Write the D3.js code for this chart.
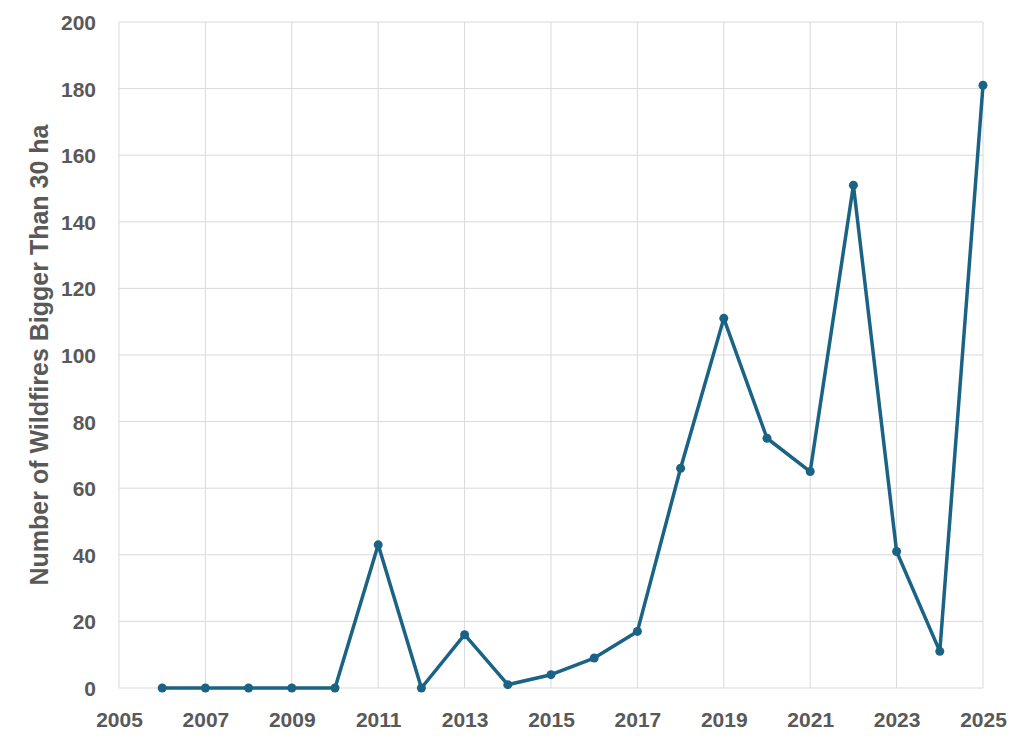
<!DOCTYPE html>
<html>
<head>
<meta charset="utf-8">
<script src="https://cdn.jsdelivr.net/npm/d3@7"></script>
<style>
  body { margin: 0; background: #fff; }
  text { font-family: "Liberation Sans", Arial, sans-serif; font-weight: bold; fill: #595959; }
</style>
</head>
<body>
<div id="chart"></div>
<script>
var years = [2006, 2007, 2008, 2009, 2010, 2011, 2012, 2013, 2014, 2015,
             2016, 2017, 2018, 2019, 2020, 2021, 2022, 2023, 2024, 2025];
var fires = [0, 0, 0, 0, 0, 43, 0, 16, 1, 4,
             9, 17, 66, 111, 75, 65, 151, 41, 11, 181];
var xTicks = [2005, 2007, 2009, 2011, 2013, 2015, 2017, 2019, 2021, 2023, 2025];
var yTicks = [0, 20, 40, 60, 80, 100, 120, 140, 160, 180, 200];
var yTitle = 'Number of Wildfires Bigger Than 30 ha';

var width = 1024, height = 743,
    margin = { top: 22, right: 41, bottom: 55, left: 119 },
    lineColor = '#1a6385',
    gridColor = '#d9d9d9';

var svg = d3.select('#chart').append('svg')
    .attr('width', width)
    .attr('height', height);

var x = d3.scaleLinear().domain([2005, 2025]).range([margin.left, width - margin.right]),
    y = d3.scaleLinear().domain([0, 200]).range([height - margin.bottom, margin.top]);

// gridlines
svg.append('g').selectAll('line.h')
    .data(yTicks).enter().append('line')
    .attr('x1', margin.left).attr('x2', width - margin.right)
    .attr('y1', function (d) { return y(d); }).attr('y2', function (d) { return y(d); })
    .attr('stroke', gridColor).attr('stroke-width', 1);
svg.append('g').selectAll('line.v')
    .data(xTicks).enter().append('line')
    .attr('x1', function (d) { return x(d); }).attr('x2', function (d) { return x(d); })
    .attr('y1', margin.top).attr('y2', height - margin.bottom)
    .attr('stroke', gridColor).attr('stroke-width', 1);

// axes (labels only)
var yAxis = svg.append('g')
    .attr('transform', 'translate(' + (margin.left - 23) + ',0)')
    .call(d3.axisLeft(y).tickValues(yTicks).tickSize(0).tickPadding(0));
yAxis.select('.domain').remove();
yAxis.selectAll('text').style('font-size', '21px').attr('dy', '0.36em');

var xAxis = svg.append('g')
    .attr('transform', 'translate(0,' + (height - margin.bottom) + ')')
    .call(d3.axisBottom(x).tickValues(xTicks).tickSize(0).tickPadding(0).tickFormat(d3.format('d')));
xAxis.select('.domain').remove();
xAxis.selectAll('text').style('font-size', '21px').attr('y', 39).attr('dy', 0);

svg.append('text')
    .attr('transform', 'translate(48,' + ((margin.top + height - margin.bottom) / 2) + ') rotate(-90)')
    .attr('text-anchor', 'middle')
    .style('font-size', '25px')
    .text(yTitle);

// series
var pts = years.map(function (d, i) { return [d, fires[i]]; });
var line = d3.line()
    .x(function (d) { return x(d[0]); })
    .y(function (d) { return y(d[1]); });

svg.append('path')
    .datum(pts)
    .attr('d', line)
    .attr('fill', 'none')
    .attr('stroke', lineColor)
    .attr('stroke-width', 3.5)
    .attr('stroke-linejoin', 'round');

svg.append('g').selectAll('circle')
    .data(pts).enter().append('circle')
    .attr('cx', function (d) { return x(d[0]); })
    .attr('cy', function (d) { return y(d[1]); })
    .attr('r', 4.5)
    .attr('fill', lineColor);
</script>
</body>
</html>
